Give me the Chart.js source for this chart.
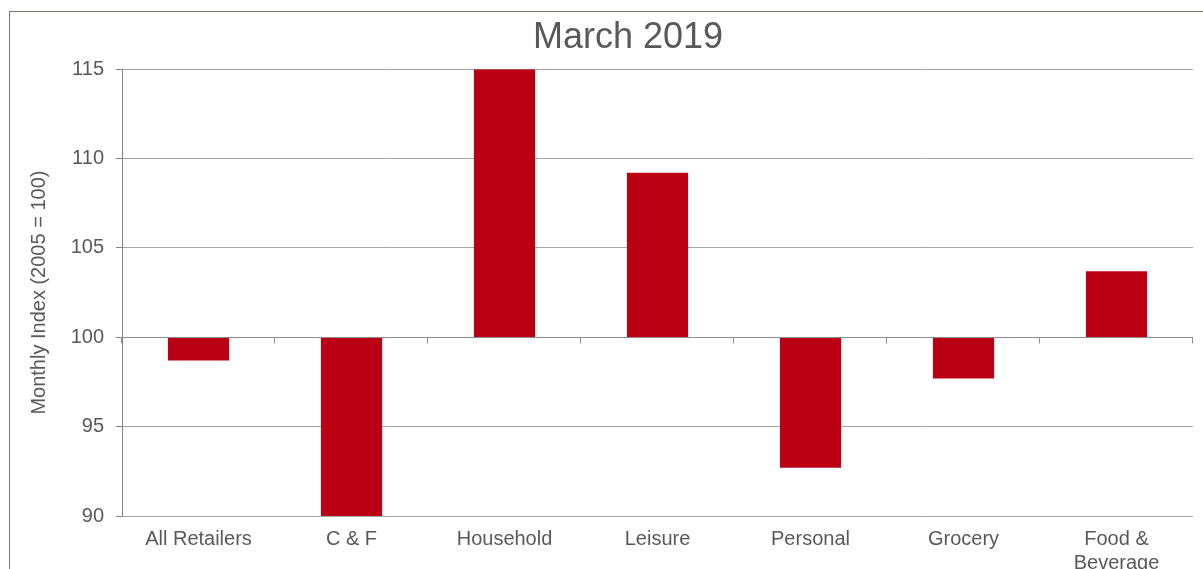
<!DOCTYPE html>
<html>
<head>
<meta charset="utf-8">
<script src="https://cdn.jsdelivr.net/npm/chart.js@4"></script>
<style>
  html, body { margin: 0; padding: 0; background: #fff; overflow: hidden; width: 1203px; height: 569px; }
  #frame { position: absolute; left: 9px; top: 11px; width: 1300px; height: 700px; border: 1px solid #7d746e; box-sizing: border-box; }
  #wrap { position: absolute; left: 10px; top: 12px; width: 1236px; height: 600px; }
</style>
</head>
<body>
<div id="frame"></div>
<div id="wrap"><canvas id="c" width="1236" height="600" style="width:1236px;height:600px"></canvas></div>
<script>
const chartTitle = 'March 2019';
const yAxisTitle = 'Monthly Index (2005 = 100)';
const categories = ['All Retailers', 'C & F', 'Household', 'Leisure', 'Personal', 'Grocery', ['Food &', 'Beverage']];
const indexValues = [98.7, 89.9, 115, 109.2, 92.7, 97.7, 103.7];
const baseline = 100;
const yMin = 90, yMax = 115, yStep = 5;

const FONT = '"Liberation Sans", Arial, sans-serif';
const TEXT = '#595959';
const AXIS = '#8b827c';

const baselineAxis = {
  id: 'baselineAxis',
  afterDatasetsDraw(chart) {
    const { ctx, chartArea, scales: { x, y } } = chart;
    const py = Math.round(y.getPixelForValue(baseline)) + 0.5;
    const n = categories.length;
    ctx.save();
    ctx.strokeStyle = '#8c8c8c';
    ctx.lineWidth = 1;
    ctx.beginPath();
    ctx.moveTo(chartArea.left, py);
    ctx.lineTo(chartArea.right, py);
    for (let i = 0; i <= n; i++) {
      let px;
      if (i === 0) px = chartArea.left;
      else if (i === n) px = chartArea.right;
      else px = (x.getPixelForValue(i - 1) + x.getPixelForValue(i)) / 2;
      px = Math.round(px) - 0.5;
      ctx.moveTo(px, py);
      ctx.lineTo(px, py + 6);
    }
    ctx.stroke();
    ctx.restore();
  }
};

new Chart(document.getElementById('c'), {
  type: 'bar',
  data: {
    labels: categories,
    datasets: [{
      data: indexValues.map(v => [baseline, v]),
      backgroundColor: '#ba0012',
      borderWidth: 0,
      borderSkipped: false,
      barPercentage: 1,
      categoryPercentage: 0.4
    }]
  },
  options: {
    responsive: false,
    animation: false,
    layout: { padding: 0 },
    plugins: {
      legend: { display: false },
      tooltip: { enabled: false },
      title: {
        display: true,
        text: chartTitle,
        color: TEXT,
        font: { family: FONT, size: 36, weight: 'normal' },
        padding: { top: 4, bottom: 10 }
      }
    },
    scales: {
      x: {
        grid: { display: false, drawTicks: false },
        border: { display: false },
        ticks: { color: TEXT, font: { family: FONT, size: 20 }, padding: 11, maxRotation: 0, autoSkip: false },
        afterFit(s) { s.height = 96; }
      },
      y: {
        min: yMin, max: yMax,
        grid: { color: '#a6a6a6', lineWidth: 1, tickColor: AXIS, tickLength: 6, drawTicks: true },
        border: { display: true, color: AXIS, width: 1 },
        ticks: { stepSize: yStep, color: TEXT, font: { family: FONT, size: 20 }, padding: 12 },
        title: { display: true, text: yAxisTitle, color: TEXT, font: { family: FONT, size: 20 }, padding: { top: 17, bottom: 0 } },
        afterFit(s) { s.width = 112; }
      },
      yRight: {
        position: 'right',
        display: true,
        grid: { display: false, drawTicks: false },
        border: { display: false },
        ticks: { display: false },
        afterFit(s) { s.width = 53; }
      }
    }
  },
  plugins: [baselineAxis]
});
</script>
</body>
</html>
